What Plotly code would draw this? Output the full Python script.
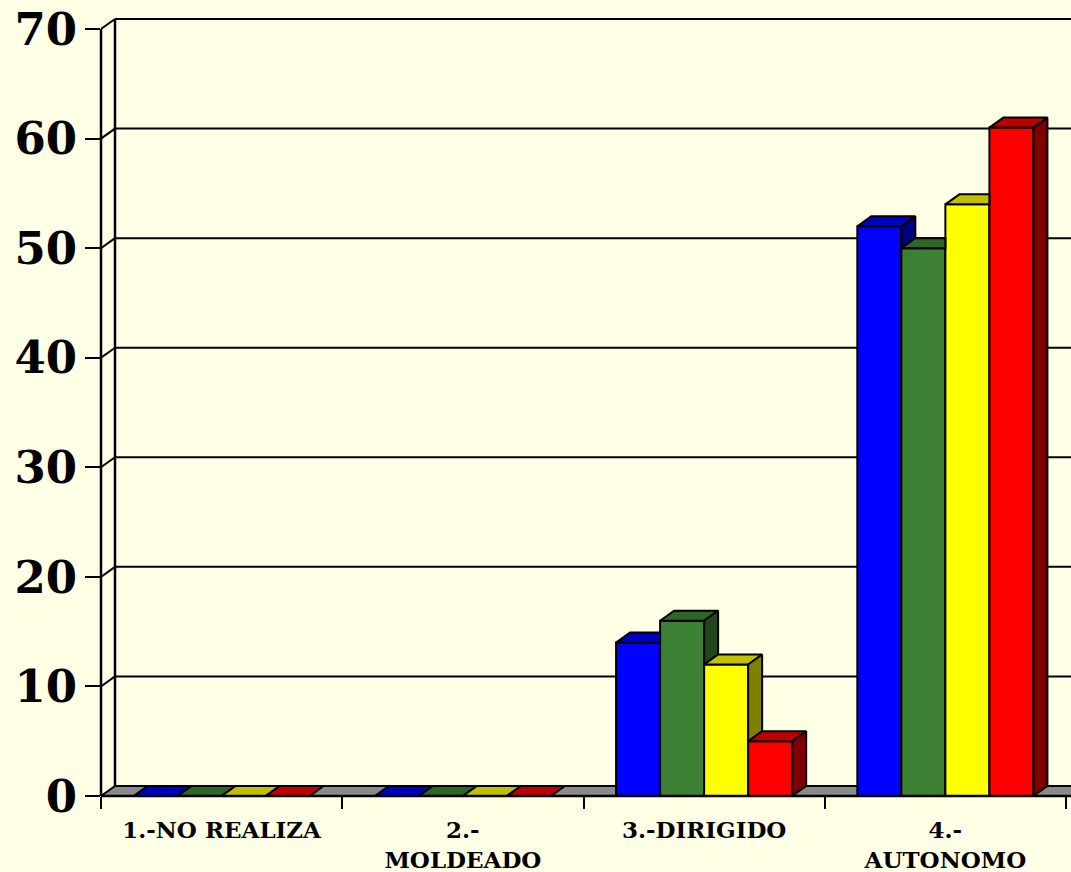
import plotly.graph_objects as go

# ---------------- data ----------------
categories = ["1.-NO REALIZA", "2.-<br>MOLDEADO", "3.-DIRIGIDO", "4.-<br>AUTONOMO"]
series_names = ["Serie 1", "Serie 2", "Serie 3", "Serie 4"]
values_s1 = [0, 0, 14, 52]
values_s2 = [0, 0, 16, 50]
values_s3 = [0, 0, 12, 54]
values_s4 = [0, 0, 5, 61]
y_tick_values = [0, 10, 20, 30, 40, 50, 60, 70]

# ---------------- styles ----------------
front_colors = ["#0000FF", "#3C8033", "#FFFF00", "#FF0000"]
top_colors = ["#0000C0", "#2E6629", "#C0C000", "#C00000"]
side_colors = ["#000080", "#21481D", "#808000", "#800000"]
BG = "#FFFFE6"
FLOOR = "#8A8A8A"
FONT = "DejaVu Serif"

series_values = [values_s1, values_s2, values_s3, values_s4]
n_series = len(series_values)
cat_pos = list(range(len(categories)))

# geometry of the plot area (pixels) -> data units
W, H = 1071, 872
M_L, M_R, M_T, M_B = 101, 0, 15, 76
PX_X = 241.25
PX_Y = 10.957
X_MIN = -0.5
X_MAX = X_MIN + (W - M_L - M_R) / PX_X
Y_MAX = (H - M_T - M_B) / PX_Y
DX = 14 / PX_X
DY = 10 / PX_Y
BARGAP = 0.27
BW = (1 - BARGAP) / n_series

fig = go.Figure()

# front faces as real bars
for i, vals in enumerate(series_values):
    fig.add_trace(go.Bar(
        x=cat_pos, y=vals, name=series_names[i],
        marker=dict(color=front_colors[i], line=dict(color="black", width=2)),
        hoverinfo="skip", showlegend=False,
    ))


def poly(xs, ys, pts):
    for (px, py) in pts:
        xs.append(px)
        ys.append(py)
    xs.append(pts[0][0])
    ys.append(pts[0][1])
    xs.append(None)
    ys.append(None)


# tops and sides (3D effect), drawn left to right
for i, vals in enumerate(series_values):
    tx, ty, sx, sy = [], [], [], []
    for c, v in zip(cat_pos, vals):
        x0 = c + (i - n_series / 2) * BW
        x1 = x0 + BW
        vn = series_values[i + 1][c] if i + 1 < n_series else 0
        # top face (clipped by next bar's front face if that one is taller)
        if vn >= v + DY:
            pts = [(x0, v), (x1, v), (x1, v + DY), (x0 + DX, v + DY)]
        elif vn > v:
            pts = [(x0, v), (x1, v), (x1, vn), (x1 + (vn - v) / DY * DX, vn),
                   (x1 + DX, v + DY), (x0 + DX, v + DY)]
        else:
            pts = [(x0, v), (x1, v), (x1 + DX, v + DY), (x0 + DX, v + DY)]
        poly(tx, ty, pts)
        # side face
        if v > 0 and vn < v:
            poly(sx, sy, [(x1, vn), (x1, v), (x1 + DX, v + DY), (x1 + DX, vn + DY)])
    fig.add_trace(go.Scatter(
        x=tx, y=ty, mode="lines", fill="toself", fillcolor=top_colors[i],
        line=dict(color="black", width=2), hoverinfo="skip", showlegend=False,
    ))
    if sx:
        fig.add_trace(go.Scatter(
            x=sx, y=sy, mode="lines", fill="toself", fillcolor=side_colors[i],
            line=dict(color="black", width=2), hoverinfo="skip", showlegend=False,
        ))

# ---------------- walls, floor, grid ----------------
shapes = []
bx = X_MIN + DX
# floor
shapes.append(dict(
    type="path", xref="x", yref="y", layer="below",
    path=f"M {X_MIN},0 L {X_MAX + 1},0 L {X_MAX + 1 + DX},{DY} L {bx},{DY} Z",
    fillcolor=FLOOR, line=dict(width=0),
))
# back grid lines and diagonals
for v in y_tick_values:
    shapes.append(dict(type="line", xref="x", yref="y", layer="below",
                       x0=bx, x1=X_MAX + 1, y0=v + DY, y1=v + DY,
                       line=dict(color="black", width=2)))
    shapes.append(dict(type="line", xref="x", yref="y", layer="below",
                       x0=X_MIN, x1=bx, y0=v, y1=v + DY,
                       line=dict(color="black", width=2)))
# back wall vertical
shapes.append(dict(type="line", xref="x", yref="y", layer="below",
                   x0=bx, x1=bx, y0=DY, y1=y_tick_values[-1] + DY,
                   line=dict(color="black", width=2.5)))
# front axis lines
shapes.append(dict(type="line", xref="paper", yref="y", layer="above",
                   x0=0, x1=0, y0=0, y1=y_tick_values[-1],
                   line=dict(color="black", width=2.5)))
shapes.append(dict(type="line", xref="paper", yref="paper", layer="above",
                   x0=0, x1=1, y0=0, y1=0,
                   line=dict(color="black", width=2.5)))

fig.update_layout(
    width=W, height=H,
    margin=dict(l=M_L, r=M_R, t=M_T, b=M_B, pad=0, autoexpand=False),
    paper_bgcolor=BG, plot_bgcolor=BG,
    barmode="group", bargap=BARGAP, bargroupgap=0,
    showlegend=False,
    shapes=shapes,
    xaxis=dict(
        range=[X_MIN, X_MAX], tickmode="array", tickvals=cat_pos, ticktext=categories,
        ticks="", showgrid=False, zeroline=False, showline=False, automargin=False,
        tickfont=dict(family=FONT, size=23, color="black", weight="bold"),
        ticklabelstandoff=18,
        minor=dict(tickmode="array", tickvals=[c - 0.5 for c in cat_pos] + [cat_pos[-1] + 0.5],
                   ticks="outside", ticklen=12, tickwidth=2, tickcolor="black", showgrid=False),
    ),
    yaxis=dict(
        range=[0, Y_MAX], tickmode="array", tickvals=y_tick_values,
        ticks="outside", ticklen=15, tickwidth=2, tickcolor="black",
        showgrid=False, zeroline=False, showline=False, automargin=False,
        tickfont=dict(family=FONT, size=45, color="black", weight="bold"),
        ticklabelstandoff=-1,
    ),
)

fig.write_html("out.html", config={"displayModeBar": False},
               post_script="document.body.style.margin='0';document.body.style.overflow='hidden';")
